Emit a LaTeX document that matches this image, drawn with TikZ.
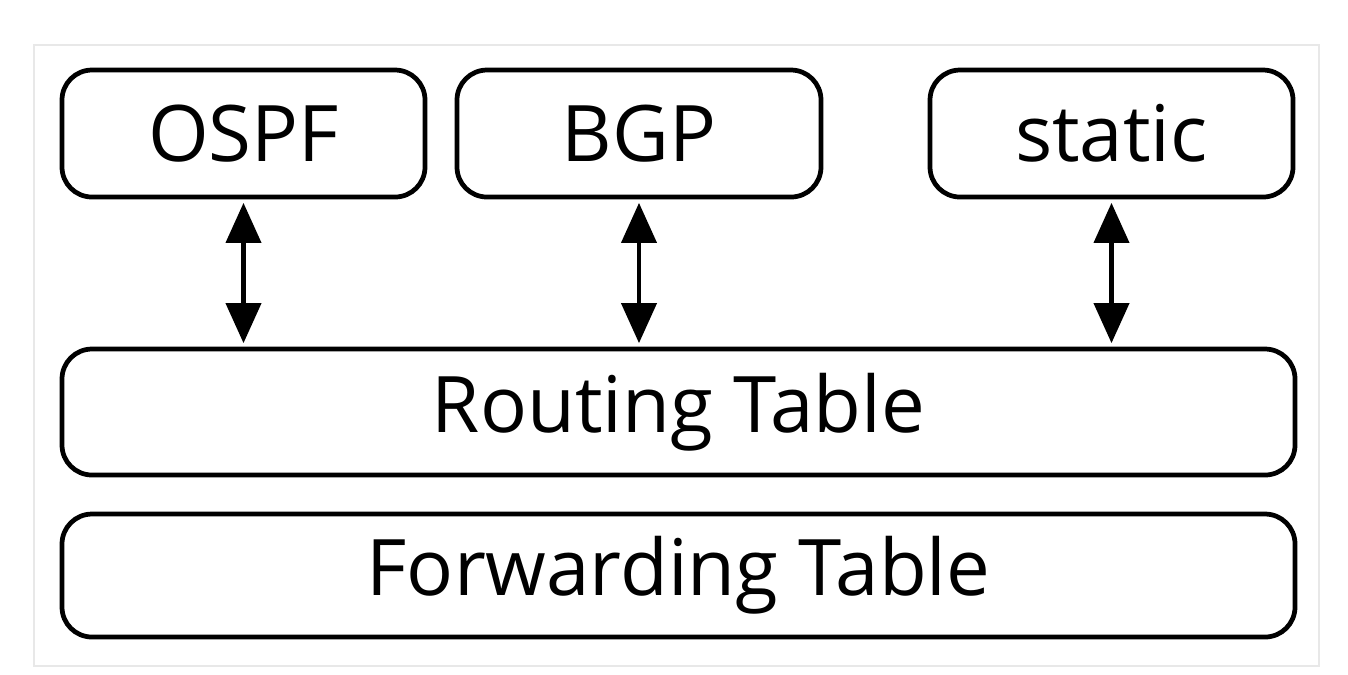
\documentclass[tikz,border=0pt]{standalone}
\usepackage{fontspec}
\setmainfont{Open Sans}
\usetikzlibrary{arrows.meta}
\tikzset{
  proto/.style={draw, line width=1.35pt, rounded corners=0.3cm, minimum width=3.63cm, minimum height=1.27cm, inner sep=0pt, font=\fontsize{22.2}{27}\selectfont},
  table/.style={proto, minimum width=12.33cm}
}
\begin{document}
\begin{tikzpicture}
      \useasboundingbox (0,0) rectangle (13.48,-6.74);
      \draw[gray!18, line width=0.7pt] (0.34,-0.45) rectangle (13.19,-6.66);
      \draw
        (2.435,-1.335) node[proto] (ospf){OSPF}
        (6.39,-1.335) node[proto, minimum width=3.64cm] (bgp){BGP}
        (11.115,-1.335) node[proto] (static){static}
        (6.785,-4.12) node[table, minimum height=1.26cm] (rt){Routing Table}
        (6.785,-5.755) node[table, minimum height=1.23cm] (ft){Forwarding Table};
      \begin{scope}[{Triangle[length=0.4cm,width=0.35cm]}-{Triangle[length=0.4cm,width=0.35cm]}, line width=1.15pt, shorten <=1pt, shorten >=1pt]
        \draw (ospf) -- (ospf |- rt.north);
        \draw (bgp) -- (bgp |- rt.north);
        \draw (static) -- (static |- rt.north);
      \end{scope}
    \end{tikzpicture}
\end{document}
